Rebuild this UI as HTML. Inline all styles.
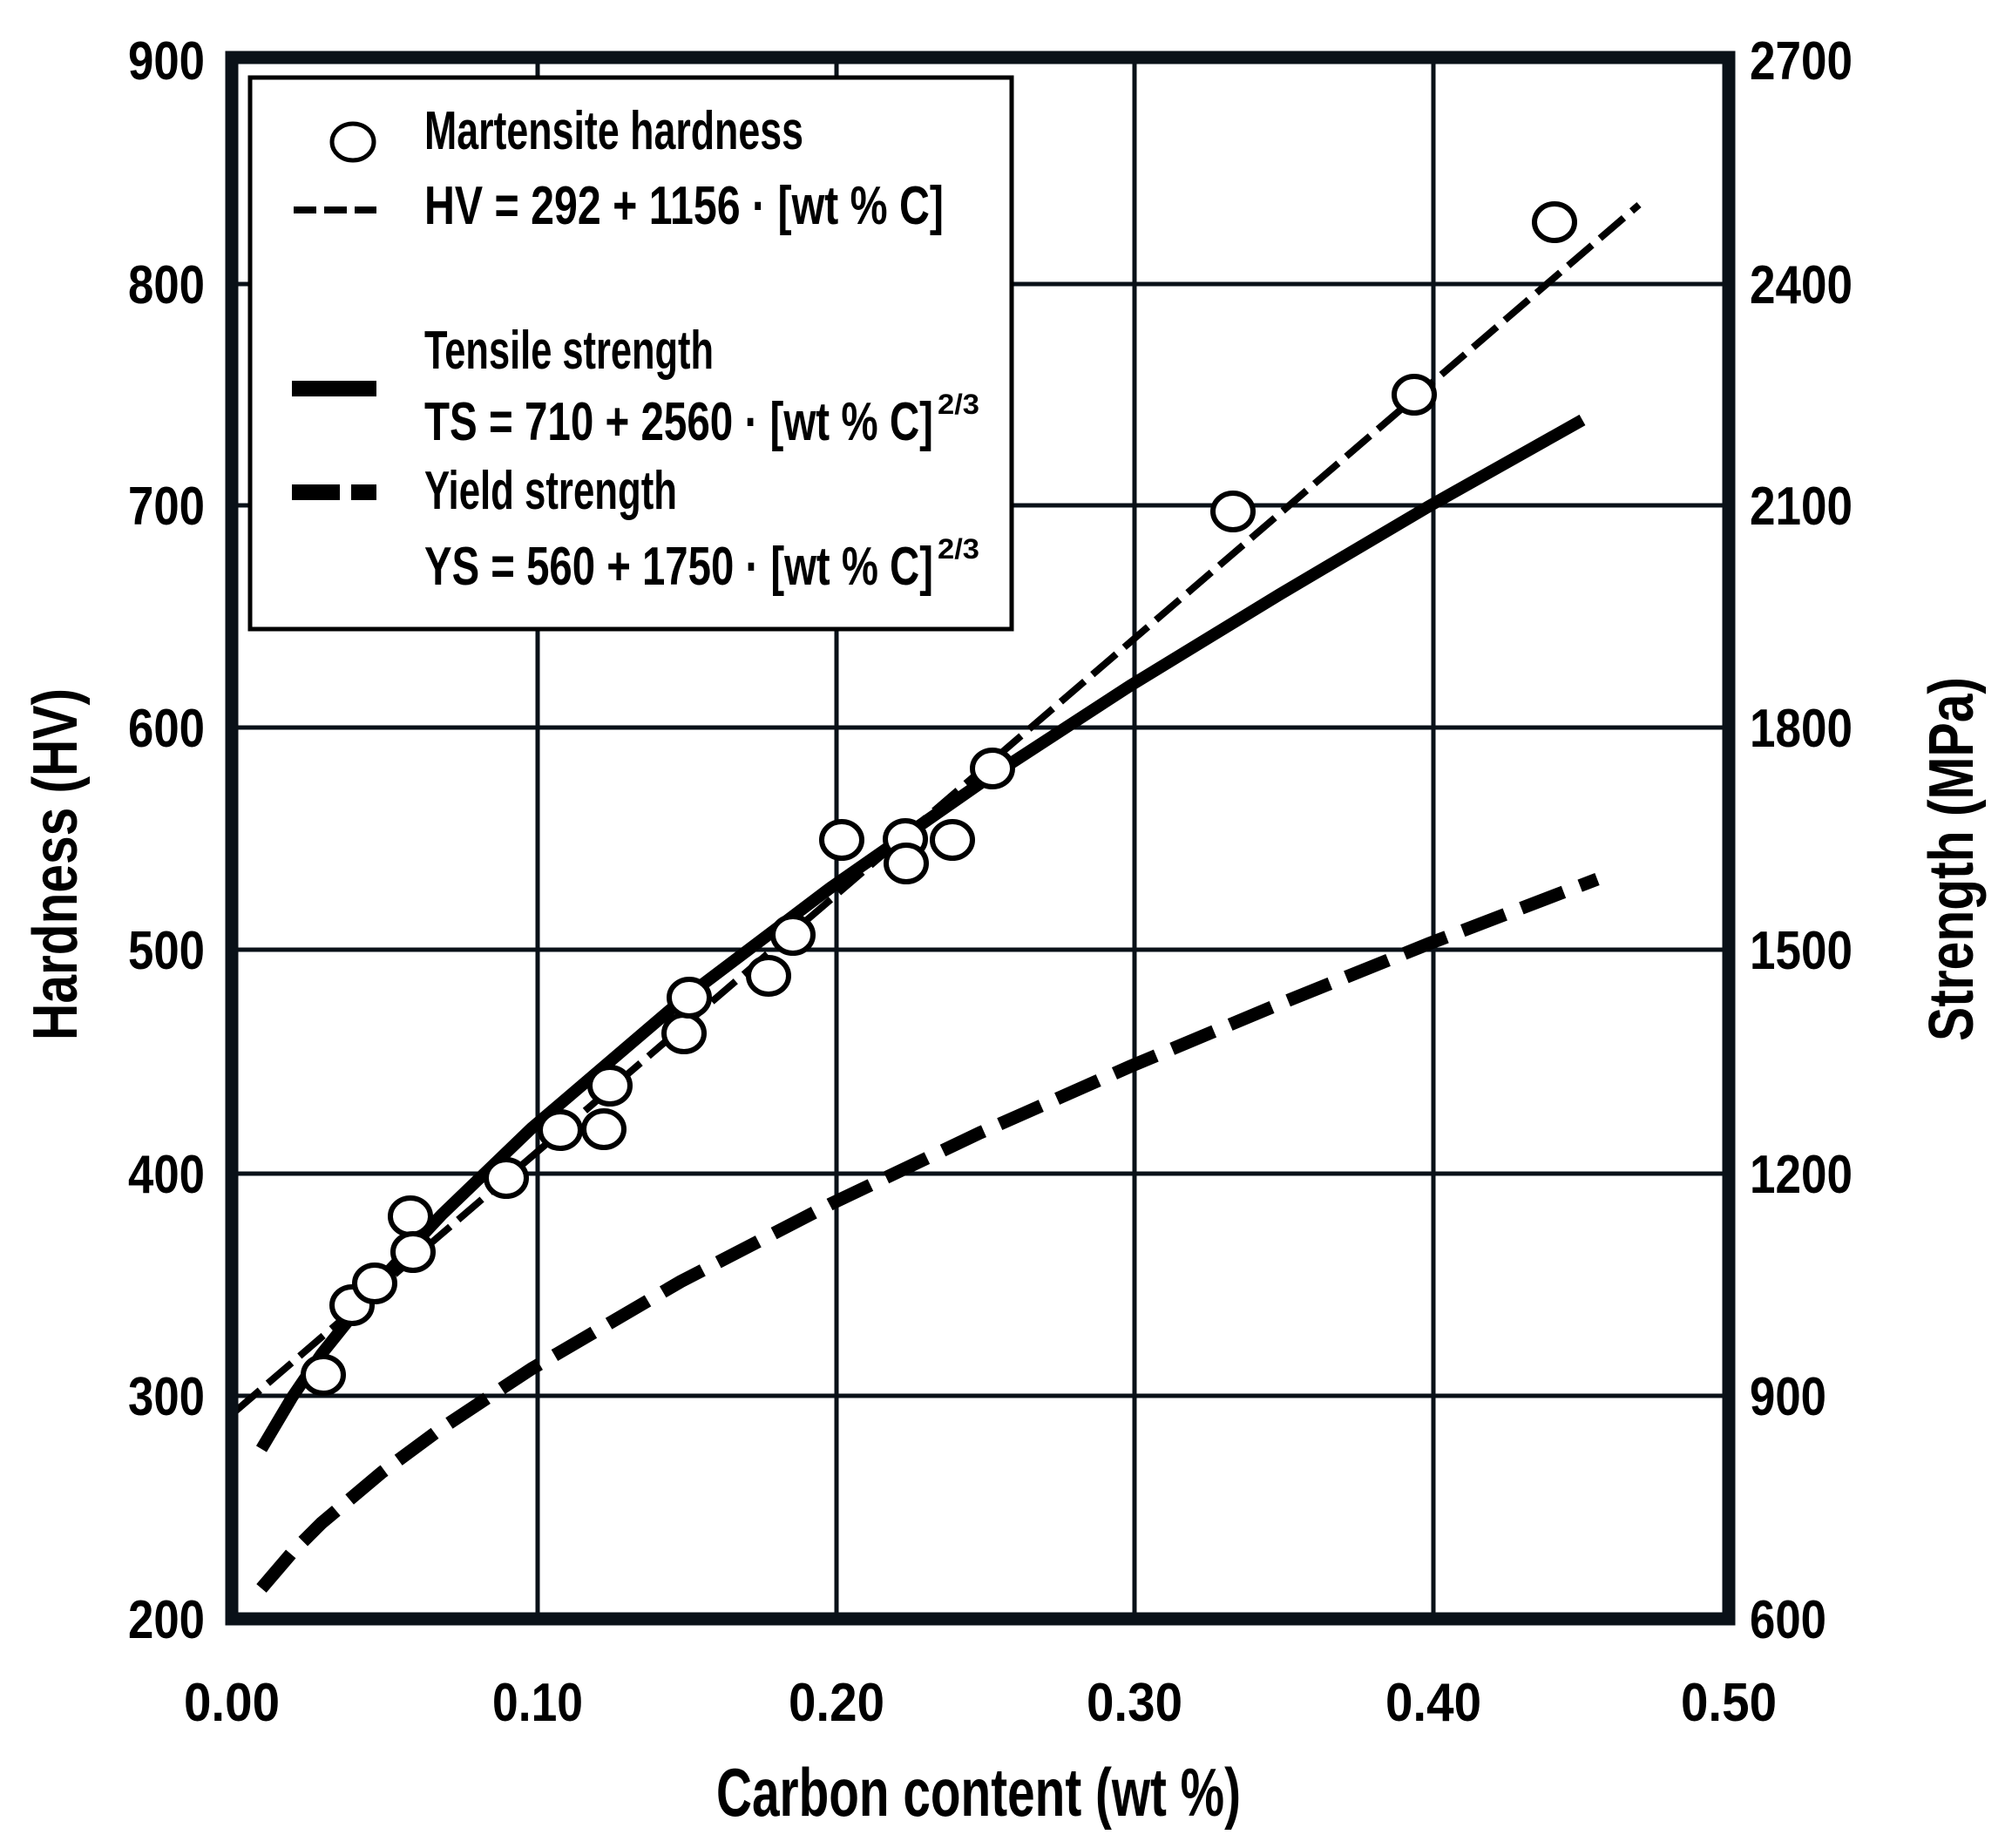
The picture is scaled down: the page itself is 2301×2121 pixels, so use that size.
<!DOCTYPE html>
<html><head><meta charset="utf-8"><style>
html,body{margin:0;padding:0;background:#fff;}
svg{display:block;}
text{font-family:"Liberation Sans Narrow","Liberation Sans",sans-serif;font-weight:bold;fill:#000;}
</style></head><body>
<svg width="2301" height="2121" viewBox="0 0 2301 2121" xmlns="http://www.w3.org/2000/svg">
<rect width="2301" height="2121" fill="#fff"/>
<g stroke="#0a1118" stroke-width="5">
<line x1="617" y1="66" x2="617" y2="1858"/>
<line x1="960" y1="66" x2="960" y2="1858"/>
<line x1="1302" y1="66" x2="1302" y2="1858"/>
<line x1="1645" y1="66" x2="1645" y2="1858"/>
<line x1="266" y1="326" x2="1984" y2="326"/>
<line x1="266" y1="580" x2="1984" y2="580"/>
<line x1="266" y1="835" x2="1984" y2="835"/>
<line x1="266" y1="1090" x2="1984" y2="1090"/>
<line x1="266" y1="1347" x2="1984" y2="1347"/>
<line x1="266" y1="1602" x2="1984" y2="1602"/>
</g>
<polyline fill="none" stroke="#000" stroke-width="15" stroke-dasharray="52 20" points="300,1823 335,1782 369,1748 438,1690 507,1639 610,1571 781,1471 953,1382 1125,1300 1297,1224 1469,1152 1640,1083 1833,1009"/>
<polyline fill="none" stroke="#000" stroke-width="14" points="300,1663 335,1604 369,1554 438,1468 507,1394 610,1295 781,1149 953,1019 1125,899 1297,787 1469,682 1640,581 1816,482"/>
<line x1="271" y1="1619" x2="1881" y2="235" stroke="#000" stroke-width="8" stroke-dasharray="36 12"/>
<g fill="#fff" stroke="#000" stroke-width="6">
<ellipse cx="371" cy="1578" rx="23" ry="21"/>
<ellipse cx="404" cy="1498" rx="23" ry="21"/>
<ellipse cx="430" cy="1473" rx="23" ry="21"/>
<ellipse cx="471" cy="1396" rx="23" ry="21"/>
<ellipse cx="474" cy="1437" rx="23" ry="21"/>
<ellipse cx="581" cy="1352" rx="23" ry="21"/>
<ellipse cx="643" cy="1297" rx="23" ry="21"/>
<ellipse cx="693" cy="1296" rx="23" ry="21"/>
<ellipse cx="700" cy="1246" rx="23" ry="21"/>
<ellipse cx="785" cy="1186" rx="23" ry="21"/>
<ellipse cx="791" cy="1145" rx="23" ry="21"/>
<ellipse cx="882" cy="1120" rx="23" ry="21"/>
<ellipse cx="910" cy="1073" rx="23" ry="21"/>
<ellipse cx="966" cy="964" rx="23" ry="21"/>
<ellipse cx="1039" cy="963" rx="23" ry="21"/>
<ellipse cx="1040" cy="991" rx="23" ry="21"/>
<ellipse cx="1093" cy="964" rx="23" ry="21"/>
<ellipse cx="1139" cy="882" rx="23" ry="21"/>
<ellipse cx="1415" cy="587" rx="23" ry="21"/>
<ellipse cx="1623" cy="453" rx="23" ry="21"/>
<ellipse cx="1784" cy="255" rx="23" ry="21"/>
</g>
<rect x="266" y="66" width="1718" height="1792" fill="none" stroke="#0a1118" stroke-width="15"/>
<rect x="287" y="89" width="874" height="633" fill="#fff" stroke="#000" stroke-width="5"/>
<ellipse cx="405" cy="163" rx="24" ry="21" fill="#fff" stroke="#000" stroke-width="5"/>
<line x1="337" y1="241" x2="432" y2="241" stroke="#000" stroke-width="8" stroke-dasharray="26 9"/>
<line x1="335" y1="446" x2="432" y2="446" stroke="#000" stroke-width="18"/>
<line x1="335" y1="565" x2="432" y2="565" stroke="#000" stroke-width="18" stroke-dasharray="55 13"/>
<g font-size="62">
<text x="487" y="171" textLength="435" lengthAdjust="spacingAndGlyphs">Martensite hardness</text>
<text x="487" y="257" textLength="596" lengthAdjust="spacingAndGlyphs">HV = 292 + 1156 · [wt % C]</text>
<text x="487" y="423" textLength="332" lengthAdjust="spacingAndGlyphs">Tensile strength</text>
<text x="487" y="505" textLength="584" lengthAdjust="spacingAndGlyphs">TS = 710 + 2560 · [wt % C]</text>
<text x="1076" y="475" font-size="32" textLength="48" lengthAdjust="spacingAndGlyphs">2/3</text>
<text x="487" y="584" textLength="290" lengthAdjust="spacingAndGlyphs">Yield strength</text>
<text x="487" y="671" textLength="584" lengthAdjust="spacingAndGlyphs">YS = 560 + 1750 · [wt % C]</text>
<text x="1076" y="641" font-size="32" textLength="48" lengthAdjust="spacingAndGlyphs">2/3</text>
</g>
<g font-size="62" text-anchor="end">
<text x="235" y="91" textLength="88" lengthAdjust="spacingAndGlyphs">900</text>
<text x="235" y="348" textLength="88" lengthAdjust="spacingAndGlyphs">800</text>
<text x="235" y="602" textLength="88" lengthAdjust="spacingAndGlyphs">700</text>
<text x="235" y="857" textLength="88" lengthAdjust="spacingAndGlyphs">600</text>
<text x="235" y="1112" textLength="88" lengthAdjust="spacingAndGlyphs">500</text>
<text x="235" y="1369" textLength="88" lengthAdjust="spacingAndGlyphs">400</text>
<text x="235" y="1624" textLength="88" lengthAdjust="spacingAndGlyphs">300</text>
<text x="235" y="1880" textLength="88" lengthAdjust="spacingAndGlyphs">200</text>
</g>
<g font-size="62">
<text x="2008" y="91" textLength="118" lengthAdjust="spacingAndGlyphs">2700</text>
<text x="2008" y="348" textLength="118" lengthAdjust="spacingAndGlyphs">2400</text>
<text x="2008" y="602" textLength="118" lengthAdjust="spacingAndGlyphs">2100</text>
<text x="2008" y="857" textLength="118" lengthAdjust="spacingAndGlyphs">1800</text>
<text x="2008" y="1112" textLength="118" lengthAdjust="spacingAndGlyphs">1500</text>
<text x="2008" y="1369" textLength="118" lengthAdjust="spacingAndGlyphs">1200</text>
<text x="2008" y="1624" textLength="88" lengthAdjust="spacingAndGlyphs">900</text>
<text x="2008" y="1880" textLength="88" lengthAdjust="spacingAndGlyphs">600</text>
</g>
<g font-size="62" text-anchor="middle">
<text x="266" y="1975" textLength="110" lengthAdjust="spacingAndGlyphs">0.00</text>
<text x="617" y="1975" textLength="104" lengthAdjust="spacingAndGlyphs">0.10</text>
<text x="960" y="1975" textLength="110" lengthAdjust="spacingAndGlyphs">0.20</text>
<text x="1302" y="1975" textLength="110" lengthAdjust="spacingAndGlyphs">0.30</text>
<text x="1645" y="1975" textLength="110" lengthAdjust="spacingAndGlyphs">0.40</text>
<text x="1984" y="1975" textLength="110" lengthAdjust="spacingAndGlyphs">0.50</text>
</g>
<text x="1123" y="2084" font-size="78" text-anchor="middle" textLength="602" lengthAdjust="spacingAndGlyphs">Carbon content (wt %)</text>
<text transform="translate(88,992) rotate(-90)" font-size="72" text-anchor="middle" textLength="404" lengthAdjust="spacingAndGlyphs">Hardness (HV)</text>
<text transform="translate(2264,986) rotate(-90)" font-size="72" text-anchor="middle" textLength="418" lengthAdjust="spacingAndGlyphs">Strength (MPa)</text>
</svg>
</body></html>
